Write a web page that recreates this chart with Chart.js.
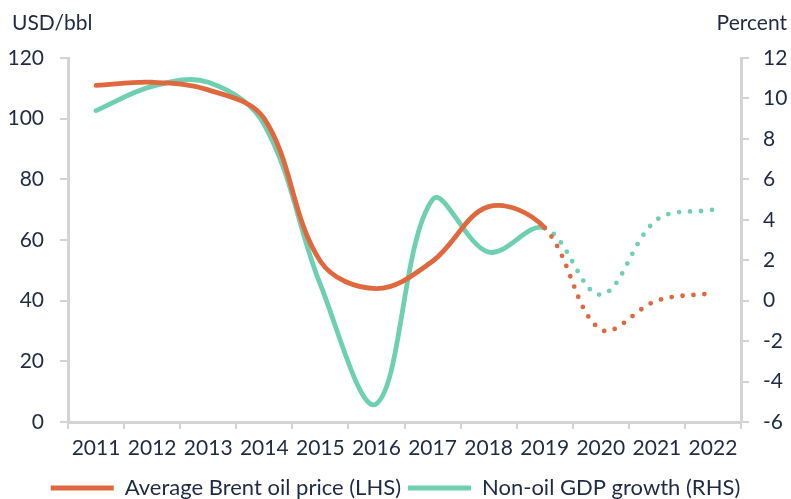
<!DOCTYPE html>
<html>
<head>
<meta charset="utf-8">
<script src="https://cdn.jsdelivr.net/npm/chart.js@4"></script>
<style>
  html, body { margin: 0; padding: 0; background: #fff; }
  #wrap { width: 791px; height: 499px; position: relative; }
</style>
</head>
<body>
<div id="wrap"><canvas id="chart"></canvas></div>
<script>
const years = ['2011', '2012', '2013', '2014', '2015', '2016', '2017', '2018', '2019', '2020', '2021', '2022'];
const brentPrice = [111, 112, 109.5, 100, 53, 44, 53, 71, 64, 30.5, 40, 42.5];
const nonOilGrowth = [9.4, 10.6, 10.8, 8.7, 0.8, -5.1, 5.0, 2.4, 3.6, 0.3, 4.0, 4.5];
const leftTicks = { min: 0, max: 120, step: 20 };
const rightTicks = { min: -6, max: 12, step: 2 };
const lastActual = 8; // 2019, dotted after

const ORANGE = '#e0683f', GREEN = '#6ed0b1', TEXT = '#1f2a44', AXIS = '#d4d4d4';
const TICK_FONT = { family: 'Lato', size: 21 };
const LEGEND_FONT = { family: 'Lato', size: 22 };

// projection part drawn dotted
const dotted = { borderDash: (c) => (c.p0DataIndex >= lastActual ? [0, 11] : undefined) };

const axisTitles = {
  id: 'axisTitles',
  afterDraw(chart) {
    const { ctx } = chart;
    ctx.save();
    ctx.font = '21px Lato';
    ctx.fillStyle = TEXT;
    ctx.textBaseline = 'middle';
    ctx.textAlign = 'left';
    ctx.fillText('USD/bbl', 12, 23);
    ctx.textAlign = 'right';
    ctx.fillText('Percent', 787, 23);
    ctx.restore();
  },
};

new Chart(document.getElementById('chart'), {
  type: 'line',
  data: {
    labels: years,
    datasets: [
      { label: 'Average Brent oil price (LHS)', data: brentPrice, yAxisID: 'y', borderColor: ORANGE, backgroundColor: ORANGE, segment: dotted },
      { label: 'Non-oil GDP growth (RHS)', data: nonOilGrowth, yAxisID: 'y1', borderColor: GREEN, backgroundColor: GREEN, segment: dotted },
    ],
  },
  options: {
    responsive: true,
    maintainAspectRatio: false,
    animation: false,
    layout: { padding: { top: 58, left: 0, right: 0, bottom: -10 } },
    elements: {
      line: { borderWidth: 4.8, tension: 0.36, borderCapStyle: 'round', borderJoinStyle: 'round' },
      point: { radius: 0, hoverRadius: 0 },
    },
    plugins: {
      tooltip: { enabled: false },
      legend: {
        position: 'bottom',
        labels: {
          boxWidth: 63, boxHeight: 5, padding: 7, color: TEXT, font: LEGEND_FONT,
          generateLabels(chart) {
            return Chart.defaults.plugins.legend.labels.generateLabels(chart).map((l) => ({ ...l, lineWidth: 0 }));
          },
        },
      },
    },
    scales: {
      x: {
        offset: true,
        grid: { offset: true, drawOnChartArea: false, tickLength: 7, color: AXIS, lineWidth: 2 },
        border: { color: AXIS, width: 3 },
        ticks: { color: TEXT, font: TICK_FONT, maxRotation: 0, autoSkip: false, padding: 7 },
        afterFit(s) { s.height = 48; },
      },
      y: {
        position: 'left',
        min: leftTicks.min, max: leftTicks.max,
        grid: { drawOnChartArea: false, tickLength: 8, color: AXIS, lineWidth: 2 },
        border: { color: AXIS, width: 3 },
        ticks: { stepSize: leftTicks.step, color: TEXT, font: TICK_FONT, padding: 16 },
        afterFit(s) { s.width = 68; },
      },
      y1: {
        position: 'right',
        min: rightTicks.min, max: rightTicks.max,
        grid: { drawOnChartArea: false, tickLength: 8, color: AXIS, lineWidth: 2 },
        border: { color: AXIS, width: 3 },
        ticks: { stepSize: rightTicks.step, color: TEXT, font: TICK_FONT, padding: 14 },
        afterFit(s) { s.width = 50; },
      },
    },
  },
  plugins: [axisTitles],
});
</script>
</body>
</html>
